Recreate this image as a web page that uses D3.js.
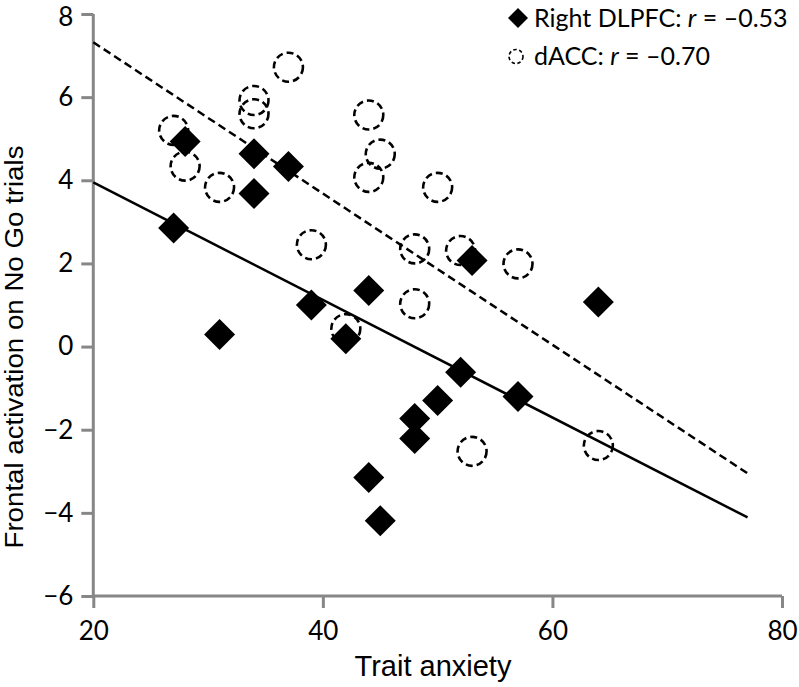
<!DOCTYPE html>
<html><head><meta charset="utf-8">
<script src="https://cdn.jsdelivr.net/npm/d3@7"></script>
<style>body{margin:0;background:#fff}svg{display:block}</style>
</head><body><svg id="c" width="799" height="687"></svg>
<script>
// Right DLPFC (filled diamonds)
const dlpfcX = [27, 28, 31, 34, 34, 37, 39, 42, 44, 44, 45, 48, 48, 50, 52, 53, 57, 64];
const dlpfcY = [2.85, 4.93, 0.29, 4.64, 3.68, 4.33, 1.0, 0.19, 1.35, -3.15, -4.19, -1.73, -2.21, -1.30, -0.62, 2.07, -1.20, 1.07];
// dACC (dashed open circles)
const daccX = [27, 28, 31, 34, 34, 37, 39, 42, 44, 44, 45, 48, 48, 50, 52, 53, 57, 64];
const daccY = [5.2, 4.34, 3.83, 5.92, 5.6, 6.72, 2.45, 0.43, 5.57, 4.07, 4.63, 2.35, 1.03, 3.83, 2.31, -2.52, 1.99, -2.38];
// Trend line endpoints
const trendX = [20, 77];
const dlpfcTrendY = [3.95, -4.11];
const daccTrendY = [7.32, -3.05];
const xTicks = [20, 40, 60, 80];
const yTicks = [-6, -4, -2, 0, 2, 4, 6, 8];
const legendLabels = ["Right DLPFC: ", "dACC: "];
const legendR = ["\u2013 0.53", "\u2013 0.70"];

const svg = d3.select("#c");
const x = d3.scaleLinear().domain([20, 80]).range([93.3, 782]);
const y = d3.scaleLinear().domain([-6, 8]).range([596, 14]);
const axisColor = "#878787";
const fmt = d => d < 0 ? "\u2212" + Math.abs(d) : String(d);

const gy = svg.append("g").attr("transform", `translate(${x(20)},0)`)
  .call(d3.axisLeft(y).tickValues(yTicks).tickSize(12).tickPadding(8).tickFormat(fmt));
const gx = svg.append("g").attr("transform", `translate(0,${y(-6)})`)
  .call(d3.axisBottom(x).tickValues(xTicks).tickSize(12).tickPadding(14).tickFormat(fmt));
[gx, gy].forEach(g => {
  g.select(".domain").attr("stroke", axisColor).attr("stroke-width", 3);
  g.selectAll(".tick line").attr("stroke", axisColor).attr("stroke-width", 3);
  g.selectAll(".tick text").attr("fill", "#000").style("font-family", "Lato, sans-serif").style("font-size", "26px");
});
gy.selectAll(".tick text").filter(d => d === 8).attr("y", 3.5);
gy.select(".domain").attr("d", `M-0,${y(-6)}V${y(8)}`);
gx.select(".domain").attr("d", `M${x(20)},0H${x(80)}`);

// Axis titles
svg.append("text").attr("x", 433).attr("y", 676).attr("text-anchor", "middle")
  .style("font-family", "'Liberation Sans', Arial, sans-serif").style("font-size", "29px").text("Trait anxiety");
svg.append("text").attr("transform", `translate(23,${347}) rotate(-90)`).attr("text-anchor", "middle")
  .attr("textLength", 403).attr("lengthAdjust", "spacingAndGlyphs")
  .style("font-family", "'Liberation Sans', Arial, sans-serif").style("font-size", "25px").text("Frontal activation on No Go trials");

// Circles (dACC)
svg.append("g").selectAll("circle").data(daccX.map((d, i) => [d, daccY[i]])).join("circle")
  .attr("cx", d => x(d[0])).attr("cy", d => y(d[1])).attr("r", 14.5)
  .attr("fill", "none").attr("stroke", "#000").attr("stroke-width", 2.6).attr("stroke-dasharray", "7,4");

// Diamonds (DLPFC)
const diamond = (s) => `M0,${-s}L${s},0L0,${s}L${-s},0Z`;
svg.append("g").selectAll("path").data(dlpfcX.map((d, i) => [d, dlpfcY[i]])).join("path")
  .attr("transform", d => `translate(${x(d[0])},${y(d[1])})`).attr("d", diamond(15.5)).attr("fill", "#000");

// Trend lines
const line = d3.line().x(d => x(d[0])).y(d => y(d[1]));
svg.append("path").attr("d", line(trendX.map((d, i) => [d, dlpfcTrendY[i]])))
  .attr("stroke", "#000").attr("stroke-width", 2.5).attr("fill", "none");
svg.append("path").attr("d", line(trendX.map((d, i) => [d, daccTrendY[i]])))
  .attr("stroke", "#000").attr("stroke-width", 2.5).attr("fill", "none").attr("stroke-dasharray", "8,4.5");

// Legend
const lg = svg.append("g");
lg.append("path").attr("transform", "translate(518,18)").attr("d", diamond(10)).attr("fill", "#000");
lg.append("circle").attr("cx", 516).attr("cy", 56.5).attr("r", 7).attr("fill", "none")
  .attr("stroke", "#000").attr("stroke-width", 1.6).attr("stroke-dasharray", "3.5,2.5");
[27, 65].forEach((by, i) => {
  const t = lg.append("text").attr("x", 534).attr("y", by)
    .style("font-family", "Lato, sans-serif").style("font-size", "25px");
  t.append("tspan").text(legendLabels[i]);
  t.append("tspan").style("font-style", "italic").text("r");
  t.append("tspan").text(" = " + legendR[i].replace(" ", ""));
});
</script></body></html>
